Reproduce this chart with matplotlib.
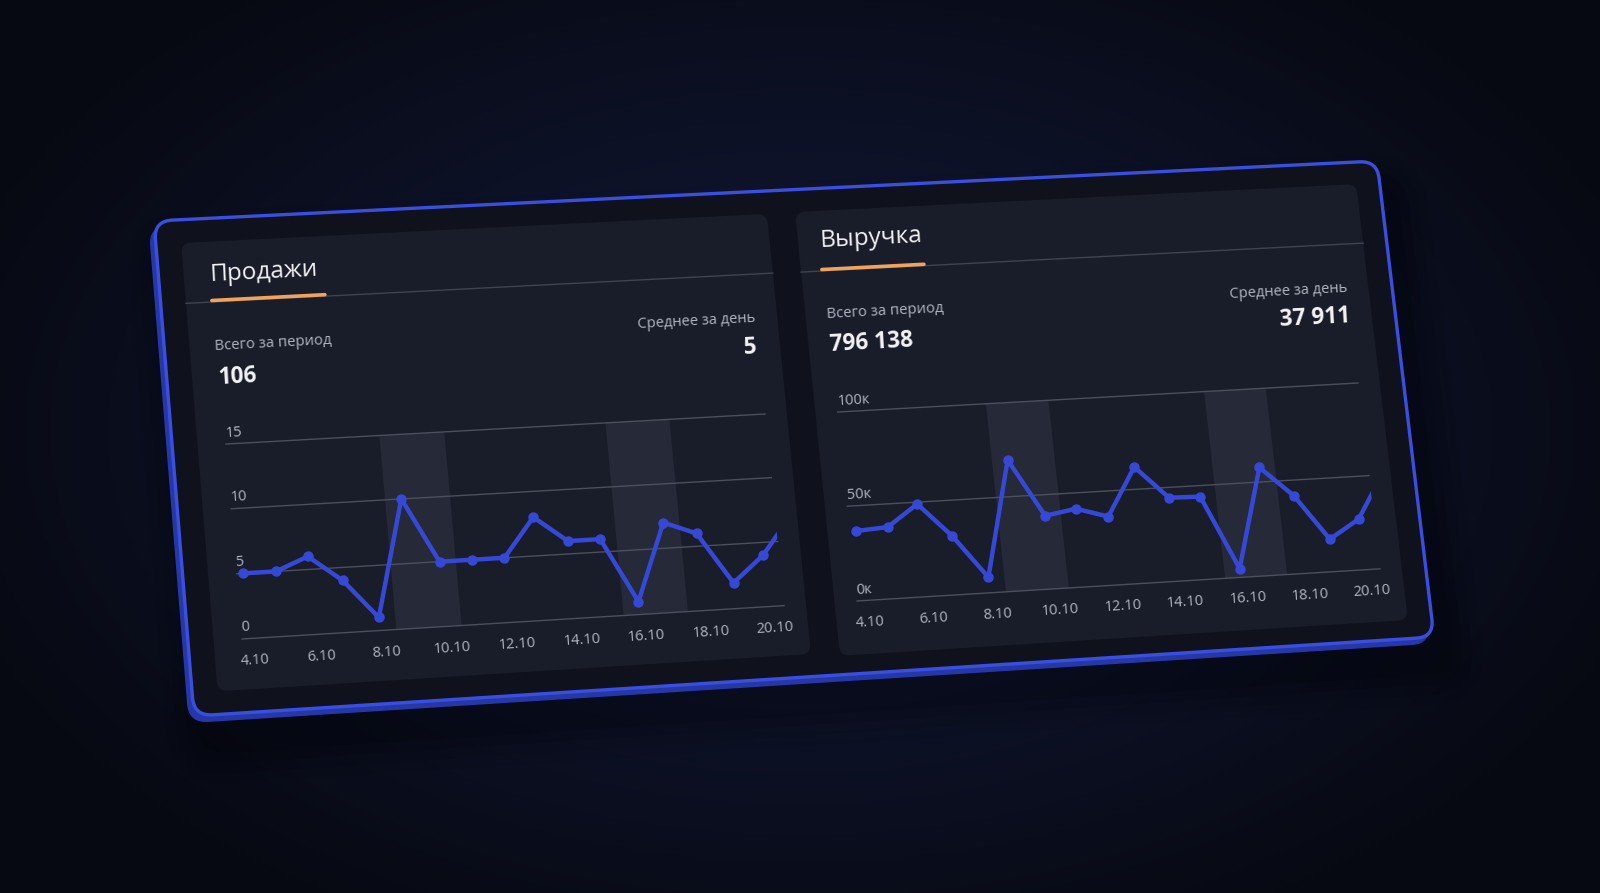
import numpy as np
import matplotlib
matplotlib.use('Agg')
import matplotlib.pyplot as plt
import matplotlib.transforms as mtransforms
from matplotlib.patches import FancyBboxPatch, Rectangle, Polygon
from matplotlib.lines import Line2D

plt.rcParams['font.family'] = ['Open Sans', 'DejaVu Sans']

# ---- data ----
days = np.arange(4, 22)          # 4.10 ... 21.10 (last one runs off the edge)
sales = [5, 5, 6, 4, 1, 10, 5, 5, 5, 8, 6, 6, 1, 7, 6, 2, 4, 7]
revenue = [36.7, 37.8, 49.0, 31.0, 8.2, 69.5, 38.8, 41.6, 36.4, 61.9,
           44.5, 44.1, 4.7, 57.8, 41.7, 17.4, 27.1, 52.0]   # thousands
weekends = [(8.5, 10.5), (15.5, 17.5)]

tick_days = [4, 6, 8, 10, 12, 14, 16, 18, 20]
tick_labels = ['4.10', '6.10', '8.10', '10.10', '12.10', '14.10', '16.10', '18.10', '20.10']
sales_ticks = [0, 5, 10, 15]
sales_tick_labels = ['0', '5', '10', '15']
rev_ticks = [0, 50, 100]
rev_tick_labels = ['0к', '50к', '100к']

titles = ['Продажи', 'Выручка']
totals = ['106', '796 138']
averages = ['5', '37 911']

XMIN, XMAX = 3.8, 20.5

# ---- colours ----
BLUE = '#3a4fe0'
LINE = '#3549d6'
CARD = '#191c29'
FRAME = '#0f121c'
BAND = '#252938'
GRID = '#4b4f5e'
MUTED = '#b0b4c1'
WHITE = '#f3f3f6'
ORANGE = '#f1a35e'


class Homography(mtransforms.Transform):
    """Projective map of the flat dashboard plane onto the picture."""
    input_dims = 2
    output_dims = 2
    is_separable = False
    has_inverse = True

    def __init__(self, H):
        super().__init__()
        self.H = np.asarray(H, float)

    def transform_non_affine(self, values):
        v = np.asarray(values, float).reshape(-1, 2)
        p = np.column_stack([v, np.ones(len(v))]) @ self.H.T
        return p[:, :2] / p[:, 2:3]

    def inverted(self):
        return Homography(np.linalg.inv(self.H))


def fit_homography(src, dst):
    A, b = [], []
    for (x, y), (u, v) in zip(src, dst):
        A.append([x, y, 1, 0, 0, 0, -u * x, -u * y])
        b.append(u)
        A.append([0, 0, 0, x, y, 1, -v * x, -v * y])
        b.append(v)
    h = np.linalg.solve(np.array(A, float), np.array(b, float))
    return np.append(h, 1).reshape(3, 3)


W, H = 1236, 492
corners_img = [(154, 221), (1377, 161), (1434, 637), (194, 716)]
G = Homography(fit_homography([(0, 0), (W, 0), (W, H), (0, H)], corners_img))
Ginv = G.inverted()

fig = plt.figure(figsize=(16, 8.93), dpi=100)
ax = fig.add_axes([0, 0, 1, 1])
ax.set_xlim(0, 1600)
ax.set_ylim(893, 0)
ax.set_autoscale_on(False)
ax.axis('off')

flat_tf = G + ax.transData


def flat_of(x, y):
    return Ginv.transform(np.array([[x, y]], float))[0]


def flat_rect(tl, br):
    a = flat_of(*tl)
    b = flat_of(*br)
    return a[0], a[1], b[0], b[1]


def put_text(fx, fy, s, **kw):
    p = G.transform(np.array([[fx, fy]], float))[0]
    q = G.transform(np.array([[fx + 20, fy]], float))[0]
    ang = np.degrees(np.arctan2(-(q[1] - p[1]), q[0] - p[0]))
    ax.text(p[0], p[1], s, rotation=ang, rotation_mode='anchor', **kw)


# ---- background glow ----
yy, xx = np.mgrid[0:893, 0:1600]
r = np.sqrt(((xx - 800) / 900.0) ** 2 + ((yy - 430) / 560.0) ** 2)
t = np.clip(r, 0, 1)[..., None]
inner = np.array([0x14, 0x1b, 0x3d]) / 255
outer = np.array([0x07, 0x09, 0x12]) / 255
bg = inner * (1 - t) + outer * t
ax.imshow(bg, extent=[0, 1600, 893, 0], zorder=0, interpolation='bilinear')

# ---- shadow and frame ----
for i, a in enumerate([0.10, 0.08, 0.06, 0.04]):
    grow = 8 + i * 10
    sh = FancyBboxPatch((-grow + 10, -grow + 30), W + 2 * grow, H + 2 * grow,
                        boxstyle='round,pad=0,rounding_size=%d' % (20 + grow),
                        fc='black', ec='none', alpha=a, transform=flat_tf, zorder=1)
    ax.add_patch(sh)

slab = FancyBboxPatch((-5, 6), W, H, boxstyle='round,pad=0,rounding_size=18',
                      fc='#2638a8', ec='#2638a8', lw=1, transform=flat_tf, zorder=2)
ax.add_patch(slab)
front = FancyBboxPatch((0, 0), W, H, boxstyle='round,pad=0,rounding_size=18',
                       fc=FRAME, ec=BLUE, lw=2.4, transform=flat_tf, zorder=3)
ax.add_patch(front)

# ---- cards ----
cards = [flat_rect((181, 243), (811, 654)), flat_rect((795, 212), (1408, 620))]
for x0, y0, x1, y1 in cards:
    ax.add_patch(FancyBboxPatch((x0, y0), x1 - x0, y1 - y0,
                                boxstyle='round,pad=0,rounding_size=10',
                                fc=CARD, ec='none', transform=flat_tf, zorder=4))

# header: title, separator, orange underline
title_pos = [(210, 281), (820, 247)]
sep_pos = [(212, 302), (822, 271)]
orange_end = [(325, 296), (924, 265)]
for k in range(2):
    x0, y0, x1, y1 = cards[k]
    tx, ty = flat_of(*title_pos[k])
    put_text(tx, ty, titles[k], fontsize=17.5, color=WHITE, ha='left', va='baseline', zorder=6)
    sx, sy = flat_of(*sep_pos[k])
    ex, _ = flat_of(*orange_end[k])
    ax.add_line(Line2D([x0, x1], [sy, sy], color='#3f4352', lw=1.0, transform=flat_tf, zorder=5))
    ax.add_line(Line2D([sx, ex], [sy - 1.5, sy - 1.5], color=ORANGE, lw=2.6,
                       solid_capstyle='round', transform=flat_tf, zorder=6))

# summary numbers
lbl_total = [(215, 347), (827, 315)]
val_total = [(218, 378), (830, 345)]
lbl_avg = [(755, 318), (1347, 288)]
val_avg = [(757, 347), (1350, 316)]
for k in range(2):
    fx, fy = flat_of(*lbl_total[k])
    put_text(fx, fy, 'Всего за период', fontsize=10.7, color=MUTED, ha='left', va='center', zorder=6)
    fx, fy = flat_of(*val_total[k])
    put_text(fx, fy, totals[k], fontsize=16.3, color=WHITE, weight='bold', ha='left', va='center', zorder=6)
    fx, fy = flat_of(*lbl_avg[k])
    put_text(fx, fy, 'Среднее за день', fontsize=10.5, color=MUTED, ha='right', va='center', zorder=6)
    fx, fy = flat_of(*val_avg[k])
    put_text(fx, fy, averages[k], fontsize=16.3, color=WHITE, weight='bold', ha='right', va='center', zorder=6)


def draw_chart(bl, tr, values, ymax, yticks, ylabels):
    a = flat_of(*bl)
    b = flat_of(*tr)
    data2flat = mtransforms.BboxTransform(
        mtransforms.Bbox([[XMIN, ymax], [XMAX, 0]]),
        mtransforms.Bbox([[a[0], b[1]], [b[0], a[1]]]))
    tf = data2flat + flat_tf

    for lo, hi in weekends:
        ax.add_patch(Rectangle((lo, 0), hi - lo, ymax, fc=BAND, ec='none', transform=tf, zorder=5))
    for t, s in zip(yticks, ylabels):
        ax.add_line(Line2D([XMIN, XMAX], [t, t], color=GRID, lw=1.0, transform=tf, zorder=6))
        fx, fy = data2flat.transform([[XMIN, t]])[0]
        put_text(fx, fy - 3.5, s, fontsize=10.5, color=MUTED, ha='left', va='bottom', zorder=7)
    for d, s in zip(tick_days, tick_labels):
        fx, fy = data2flat.transform([[d + 0.15, 0]])[0]
        put_text(fx, fy + 22, s, fontsize=10.5, color=MUTED, ha='center', va='center', zorder=7)

    # clip the series at the right end of the plot area (exact, follows the perspective)
    clip = Polygon([[XMIN - 1, -ymax * 0.2], [XMAX, -ymax * 0.2],
                    [XMAX, ymax * 1.3], [XMIN - 1, ymax * 1.3]], closed=True, transform=tf)
    ln, = ax.plot(days, values, color=LINE, lw=3.2, marker='o', ms=6.5,
                  solid_joinstyle='round', transform=tf, zorder=8)
    ln.set_clip_path(clip)


draw_chart((242, 639), (765, 414), sales, 15, sales_ticks, sales_tick_labels)
draw_chart((857, 601), (1358, 383), revenue, 100, rev_ticks, rev_tick_labels)

fig.savefig('out.png', dpi=100)
